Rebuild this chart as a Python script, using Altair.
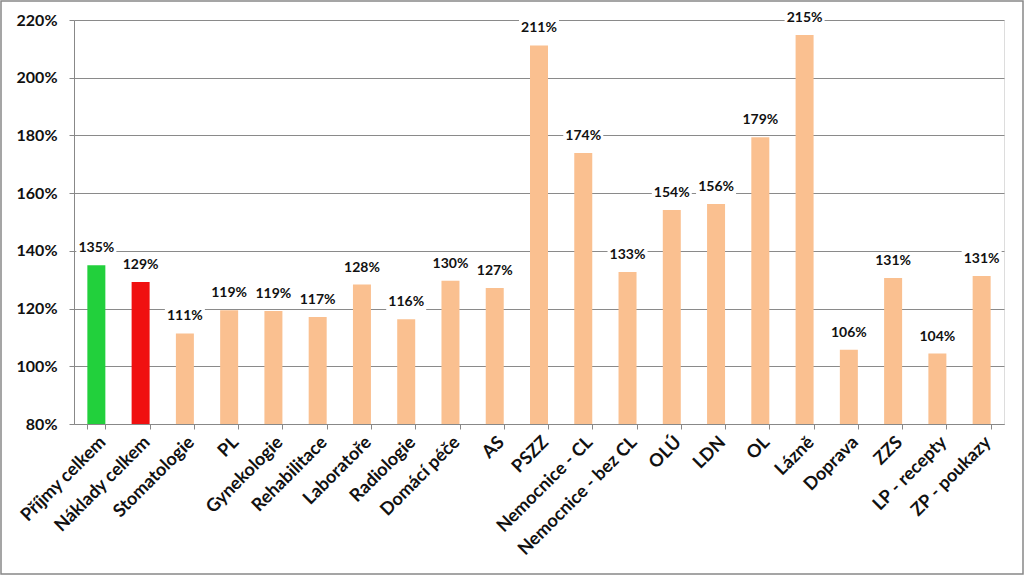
import altair as alt
import pandas as pd

categories = ["Příjmy celkem", "Náklady celkem", "Stomatologie", "PL", "Gynekologie",
              "Rehabilitace", "Laboratoře", "Radiologie", "Domácí péče", "AS", "PSZZ",
              "Nemocnice - CL", "Nemocnice - bez CL", "OLÚ", "LDN", "OL", "Lázně",
              "Doprava", "ZZS", "LP - recepty", "ZP - poukazy"]
values = [1.350, 1.292, 1.114, 1.194, 1.192, 1.171, 1.283, 1.163, 1.296, 1.271, 2.112,
          1.739, 1.327, 1.542, 1.562, 1.794, 2.148, 1.057, 1.306, 1.044, 1.313]
colors = ["#22D03C", "#F01010"] + ["#FAC090"] * 19

df = pd.DataFrame({"cat": categories, "val": values, "col": colors})

W, H = 930, 404
FONT = "Lato"

x = alt.X("cat:N", sort=categories, title=None,
          scale=alt.Scale(paddingInner=0.59, paddingOuter=0.3),
          axis=alt.Axis(labelAngle=-45, labelFont=FONT, labelFontSize=18, labelFontWeight="bold",
                        labelColor="#111", tickBand="extent", tickColor="#888", tickSize=5,
                        domainColor="#888", labelPadding=4, labelLimit=300))
yscale = alt.Scale(domain=[0.8, 2.2], zero=False, nice=False)

base = alt.Chart(df)

bars = base.mark_bar(size=18).encode(
    x=x,
    y=alt.Y("val:Q", scale=yscale, title=None,
            axis=alt.Axis(values=[0.8, 1.0, 1.2, 1.4, 1.6, 1.8, 2.0, 2.2], format=".0%",
                          labelFont=FONT, labelFontSize=16, labelFontWeight="bold",
                          labelColor="#111", gridColor="#8a8a8a", gridWidth=1,
                          domainColor="#888", tickColor="#888", tickSize=5, labelPadding=12)),
    y2=alt.datum(0.8),
    color=alt.Color("col:N", scale=None),
)

boxes = base.transform_calculate(
    lo="datum.val + 0.03", hi="datum.val + 0.089"
).mark_bar(size=40, color="white").encode(
    x=alt.X("cat:N", sort=categories),
    y=alt.Y("lo:Q", scale=yscale),
    y2="hi:Q",
)

labels = base.mark_text(font=FONT, fontSize=14, fontWeight="bold", color="#111",
                        baseline="middle", dy=-17).encode(
    x=alt.X("cat:N", sort=categories),
    y=alt.Y("val:Q", scale=yscale),
    text=alt.Text("val:Q", format=".0%"),
)

border = alt.Chart(pd.DataFrame({"a": [0]})).mark_rect(
    fill=None, stroke="#888", strokeWidth=1.5
).encode(x=alt.value(-73), x2=alt.value(W + 19), y=alt.value(-19), y2=alt.value(H + 150))

chart = alt.layer(bars, boxes, labels, border).properties(
    width=W, height=H,
    padding={"left": 74, "top": 20, "right": 20, "bottom": 151},
    autosize=alt.AutoSizeParams(type="none"),
).configure_view(stroke=None).configure(background="white")

chart.save("out.html", embed_options={"renderer": "svg", "actions": False})
